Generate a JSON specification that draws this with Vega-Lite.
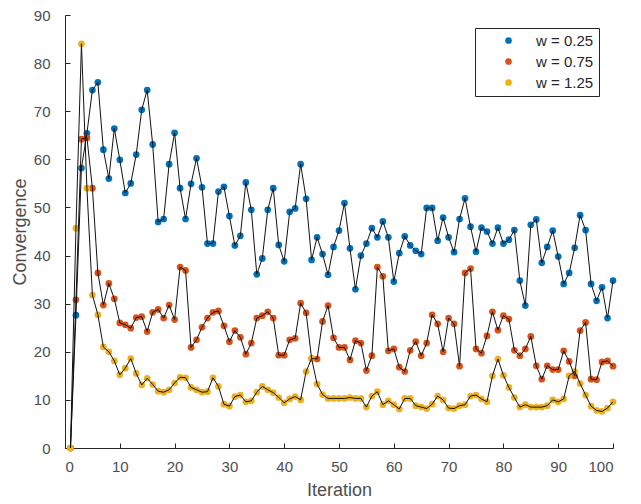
{
  "$schema": "https://vega.github.io/schema/vega-lite/v6.json",
  "width": 548,
  "height": 433,
  "autosize": {"type": "none"},
  "padding": {"left": 65, "top": 15, "right": 28, "bottom": 56},
  "background": "white",
  "config": {
    "view": {"stroke": null},
    "font": "Liberation Sans",
    "axis": {
      "grid": false,
      "domainColor": "#262626",
      "domainWidth": 1,
      "tickColor": "#262626",
      "tickSize": -5,
      "tickWidth": 1,
      "labelFont": "Liberation Sans",
      "labelFontSize": 15,
      "labelColor": "#4d4d4d",
      "titleFont": "Liberation Sans",
      "titleFontSize": 18,
      "titleFontWeight": "normal",
      "titleColor": "#4d4d4d"
    },
    "legend": {
      "orient": "none",
      "legendX": 410,
      "legendY": 13,
      "padding": 5,
      "rowPadding": 5,
      "strokeColor": "#262626",
      "fillColor": "white",
      "symbolType": "circle",
      "symbolSize": 45,
      "symbolStrokeWidth": 0,
      "symbolOffset": 21,
      "labelOffset": 20,
      "labelFont": "Liberation Sans",
      "labelFontSize": 15,
      "labelColor": "#262626",
      "title": null
    }
  },
  "data": {"values": [
    {"i":1,"s":"w = 0.25","v":0},{"i":2,"s":"w = 0.25","v":27.6},{"i":3,"s":"w = 0.25","v":58.2},{"i":4,"s":"w = 0.25","v":65.4},{"i":5,"s":"w = 0.25","v":74.4},{"i":6,"s":"w = 0.25","v":76.0},{"i":7,"s":"w = 0.25","v":62.0},{"i":8,"s":"w = 0.25","v":56.0},{"i":9,"s":"w = 0.25","v":66.4},{"i":10,"s":"w = 0.25","v":59.9},
    {"i":11,"s":"w = 0.25","v":53.0},{"i":12,"s":"w = 0.25","v":55.0},{"i":13,"s":"w = 0.25","v":61.0},{"i":14,"s":"w = 0.25","v":70.3},{"i":15,"s":"w = 0.25","v":74.4},{"i":16,"s":"w = 0.25","v":63.1},{"i":17,"s":"w = 0.25","v":47.0},{"i":18,"s":"w = 0.25","v":47.6},{"i":19,"s":"w = 0.25","v":59.0},{"i":20,"s":"w = 0.25","v":65.5},
    {"i":21,"s":"w = 0.25","v":54.0},{"i":22,"s":"w = 0.25","v":47.6},{"i":23,"s":"w = 0.25","v":54.9},{"i":24,"s":"w = 0.25","v":60.2},{"i":25,"s":"w = 0.25","v":54.2},{"i":26,"s":"w = 0.25","v":42.5},{"i":27,"s":"w = 0.25","v":42.5},{"i":28,"s":"w = 0.25","v":53.3},{"i":29,"s":"w = 0.25","v":54.3},{"i":30,"s":"w = 0.25","v":48.2},
    {"i":31,"s":"w = 0.25","v":42.1},{"i":32,"s":"w = 0.25","v":44.1},{"i":33,"s":"w = 0.25","v":55.2},{"i":34,"s":"w = 0.25","v":49.5},{"i":35,"s":"w = 0.25","v":36.1},{"i":36,"s":"w = 0.25","v":39.4},{"i":37,"s":"w = 0.25","v":49.5},{"i":38,"s":"w = 0.25","v":54.0},{"i":39,"s":"w = 0.25","v":42.2},{"i":40,"s":"w = 0.25","v":38.8},
    {"i":41,"s":"w = 0.25","v":49.1},{"i":42,"s":"w = 0.25","v":49.8},{"i":43,"s":"w = 0.25","v":59.0},{"i":44,"s":"w = 0.25","v":51.8},{"i":45,"s":"w = 0.25","v":39.1},{"i":46,"s":"w = 0.25","v":43.8},{"i":47,"s":"w = 0.25","v":40.3},{"i":48,"s":"w = 0.25","v":36.0},{"i":49,"s":"w = 0.25","v":41.8},{"i":50,"s":"w = 0.25","v":45.2},
    {"i":51,"s":"w = 0.25","v":50.9},{"i":52,"s":"w = 0.25","v":41.5},{"i":53,"s":"w = 0.25","v":33.0},{"i":54,"s":"w = 0.25","v":40.0},{"i":55,"s":"w = 0.25","v":42.5},{"i":56,"s":"w = 0.25","v":45.7},{"i":57,"s":"w = 0.25","v":43.8},{"i":58,"s":"w = 0.25","v":47.1},{"i":59,"s":"w = 0.25","v":43.8},{"i":60,"s":"w = 0.25","v":34.6},
    {"i":61,"s":"w = 0.25","v":40.5},{"i":62,"s":"w = 0.25","v":44.0},{"i":63,"s":"w = 0.25","v":42.1},{"i":64,"s":"w = 0.25","v":41.0},{"i":65,"s":"w = 0.25","v":40.3},{"i":66,"s":"w = 0.25","v":49.9},{"i":67,"s":"w = 0.25","v":49.9},{"i":68,"s":"w = 0.25","v":43.1},{"i":69,"s":"w = 0.25","v":47.9},{"i":70,"s":"w = 0.25","v":43.8},
    {"i":71,"s":"w = 0.25","v":40.7},{"i":72,"s":"w = 0.25","v":47.6},{"i":73,"s":"w = 0.25","v":51.9},{"i":74,"s":"w = 0.25","v":46.0},{"i":75,"s":"w = 0.25","v":40.8},{"i":76,"s":"w = 0.25","v":45.8},{"i":77,"s":"w = 0.25","v":45.0},{"i":78,"s":"w = 0.25","v":42.5},{"i":79,"s":"w = 0.25","v":45.8},{"i":80,"s":"w = 0.25","v":42.5},
    {"i":81,"s":"w = 0.25","v":43.3},{"i":82,"s":"w = 0.25","v":45.3},{"i":83,"s":"w = 0.25","v":34.8},{"i":84,"s":"w = 0.25","v":29.6},{"i":85,"s":"w = 0.25","v":46.4},{"i":86,"s":"w = 0.25","v":47.5},{"i":87,"s":"w = 0.25","v":38.5},{"i":88,"s":"w = 0.25","v":41.8},{"i":89,"s":"w = 0.25","v":45.2},{"i":90,"s":"w = 0.25","v":39.8},
    {"i":91,"s":"w = 0.25","v":34.1},{"i":92,"s":"w = 0.25","v":36.4},{"i":93,"s":"w = 0.25","v":41.6},{"i":94,"s":"w = 0.25","v":48.4},{"i":95,"s":"w = 0.25","v":45.3},{"i":96,"s":"w = 0.25","v":34.1},{"i":97,"s":"w = 0.25","v":30.6},{"i":98,"s":"w = 0.25","v":33.4},{"i":99,"s":"w = 0.25","v":27.0},{"i":100,"s":"w = 0.25","v":34.8},
    {"i":1,"s":"w = 0.75","v":0},{"i":2,"s":"w = 0.75","v":30.8},{"i":3,"s":"w = 0.75","v":64.2},{"i":4,"s":"w = 0.75","v":64.5},{"i":5,"s":"w = 0.75","v":54.0},{"i":6,"s":"w = 0.75","v":36.4},{"i":7,"s":"w = 0.75","v":29.7},{"i":8,"s":"w = 0.75","v":34.2},{"i":9,"s":"w = 0.75","v":31.0},{"i":10,"s":"w = 0.75","v":26.0},
    {"i":11,"s":"w = 0.75","v":25.6},{"i":12,"s":"w = 0.75","v":24.9},{"i":13,"s":"w = 0.75","v":27.1},{"i":14,"s":"w = 0.75","v":27.3},{"i":15,"s":"w = 0.75","v":24.2},{"i":16,"s":"w = 0.75","v":28.2},{"i":17,"s":"w = 0.75","v":28.8},{"i":18,"s":"w = 0.75","v":27.0},{"i":19,"s":"w = 0.75","v":29.7},{"i":20,"s":"w = 0.75","v":26.7},
    {"i":21,"s":"w = 0.75","v":37.6},{"i":22,"s":"w = 0.75","v":36.9},{"i":23,"s":"w = 0.75","v":20.9},{"i":24,"s":"w = 0.75","v":22.5},{"i":25,"s":"w = 0.75","v":25.1},{"i":26,"s":"w = 0.75","v":27.0},{"i":27,"s":"w = 0.75","v":28.2},{"i":28,"s":"w = 0.75","v":28.5},{"i":29,"s":"w = 0.75","v":25.4},{"i":30,"s":"w = 0.75","v":22.1},
    {"i":31,"s":"w = 0.75","v":24.4},{"i":32,"s":"w = 0.75","v":23.0},{"i":33,"s":"w = 0.75","v":19.5},{"i":34,"s":"w = 0.75","v":21.8},{"i":35,"s":"w = 0.75","v":27.0},{"i":36,"s":"w = 0.75","v":27.5},{"i":37,"s":"w = 0.75","v":28.3},{"i":38,"s":"w = 0.75","v":27.0},{"i":39,"s":"w = 0.75","v":19.3},{"i":40,"s":"w = 0.75","v":19.3},
    {"i":41,"s":"w = 0.75","v":22.5},{"i":42,"s":"w = 0.75","v":22.8},{"i":43,"s":"w = 0.75","v":30.1},{"i":44,"s":"w = 0.75","v":28.1},{"i":45,"s":"w = 0.75","v":18.6},{"i":46,"s":"w = 0.75","v":18.5},{"i":47,"s":"w = 0.75","v":26.3},{"i":48,"s":"w = 0.75","v":29.6},{"i":49,"s":"w = 0.75","v":22.9},{"i":50,"s":"w = 0.75","v":20.9},
    {"i":51,"s":"w = 0.75","v":20.9},{"i":52,"s":"w = 0.75","v":18.3},{"i":53,"s":"w = 0.75","v":22.3},{"i":54,"s":"w = 0.75","v":21.8},{"i":55,"s":"w = 0.75","v":16.1},{"i":56,"s":"w = 0.75","v":19.2},{"i":57,"s":"w = 0.75","v":37.6},{"i":58,"s":"w = 0.75","v":35.7},{"i":59,"s":"w = 0.75","v":20.2},{"i":60,"s":"w = 0.75","v":20.6},
    {"i":61,"s":"w = 0.75","v":16.8},{"i":62,"s":"w = 0.75","v":15.9},{"i":63,"s":"w = 0.75","v":20.3},{"i":64,"s":"w = 0.75","v":22.1},{"i":65,"s":"w = 0.75","v":19.2},{"i":66,"s":"w = 0.75","v":21.8},{"i":67,"s":"w = 0.75","v":27.7},{"i":68,"s":"w = 0.75","v":25.8},{"i":69,"s":"w = 0.75","v":20.0},{"i":70,"s":"w = 0.75","v":27.0},
    {"i":71,"s":"w = 0.75","v":25.8},{"i":72,"s":"w = 0.75","v":17.0},{"i":73,"s":"w = 0.75","v":36.4},{"i":74,"s":"w = 0.75","v":37.3},{"i":75,"s":"w = 0.75","v":20.6},{"i":76,"s":"w = 0.75","v":19.7},{"i":77,"s":"w = 0.75","v":23.3},{"i":78,"s":"w = 0.75","v":28.3},{"i":79,"s":"w = 0.75","v":24.5},{"i":80,"s":"w = 0.75","v":27.5},
    {"i":81,"s":"w = 0.75","v":26.8},{"i":82,"s":"w = 0.75","v":20.3},{"i":83,"s":"w = 0.75","v":19.2},{"i":84,"s":"w = 0.75","v":20.6},{"i":85,"s":"w = 0.75","v":23.2},{"i":86,"s":"w = 0.75","v":17.1},{"i":87,"s":"w = 0.75","v":14.3},{"i":88,"s":"w = 0.75","v":17.1},{"i":89,"s":"w = 0.75","v":16.3},{"i":90,"s":"w = 0.75","v":16.3},
    {"i":91,"s":"w = 0.75","v":20.2},{"i":92,"s":"w = 0.75","v":18.0},{"i":93,"s":"w = 0.75","v":15.0},{"i":94,"s":"w = 0.75","v":24.4},{"i":95,"s":"w = 0.75","v":26.1},{"i":96,"s":"w = 0.75","v":14.3},{"i":97,"s":"w = 0.75","v":14.2},{"i":98,"s":"w = 0.75","v":17.9},{"i":99,"s":"w = 0.75","v":18.1},{"i":100,"s":"w = 0.75","v":17.0},
    {"i":1,"s":"w = 1.25","v":0},{"i":2,"s":"w = 1.25","v":45.7},{"i":3,"s":"w = 1.25","v":84.0},{"i":4,"s":"w = 1.25","v":54.0},{"i":5,"s":"w = 1.25","v":31.8},{"i":6,"s":"w = 1.25","v":27.7},{"i":7,"s":"w = 1.25","v":21.0},{"i":8,"s":"w = 1.25","v":20.0},{"i":9,"s":"w = 1.25","v":18.1},{"i":10,"s":"w = 1.25","v":15.2},
    {"i":11,"s":"w = 1.25","v":16.6},{"i":12,"s":"w = 1.25","v":18.6},{"i":13,"s":"w = 1.25","v":15.5},{"i":14,"s":"w = 1.25","v":13.1},{"i":15,"s":"w = 1.25","v":14.5},{"i":16,"s":"w = 1.25","v":13.2},{"i":17,"s":"w = 1.25","v":11.8},{"i":18,"s":"w = 1.25","v":11.6},{"i":19,"s":"w = 1.25","v":12.1},{"i":20,"s":"w = 1.25","v":13.5},
    {"i":21,"s":"w = 1.25","v":14.7},{"i":22,"s":"w = 1.25","v":14.6},{"i":23,"s":"w = 1.25","v":12.6},{"i":24,"s":"w = 1.25","v":12.1},{"i":25,"s":"w = 1.25","v":11.6},{"i":26,"s":"w = 1.25","v":11.7},{"i":27,"s":"w = 1.25","v":14.6},{"i":28,"s":"w = 1.25","v":12.8},{"i":29,"s":"w = 1.25","v":9.1},{"i":30,"s":"w = 1.25","v":8.7},
    {"i":31,"s":"w = 1.25","v":10.7},{"i":32,"s":"w = 1.25","v":11.0},{"i":33,"s":"w = 1.25","v":9.6},{"i":34,"s":"w = 1.25","v":9.8},{"i":35,"s":"w = 1.25","v":11.6},{"i":36,"s":"w = 1.25","v":12.8},{"i":37,"s":"w = 1.25","v":12.1},{"i":38,"s":"w = 1.25","v":11.5},{"i":39,"s":"w = 1.25","v":10.5},{"i":40,"s":"w = 1.25","v":9.4},
    {"i":41,"s":"w = 1.25","v":10.2},{"i":42,"s":"w = 1.25","v":10.7},{"i":43,"s":"w = 1.25","v":10.0},{"i":44,"s":"w = 1.25","v":15.9},{"i":45,"s":"w = 1.25","v":18.6},{"i":46,"s":"w = 1.25","v":13.3},{"i":47,"s":"w = 1.25","v":11.1},{"i":48,"s":"w = 1.25","v":10.3},{"i":49,"s":"w = 1.25","v":10.3},{"i":50,"s":"w = 1.25","v":10.3},
    {"i":51,"s":"w = 1.25","v":10.3},{"i":52,"s":"w = 1.25","v":10.5},{"i":53,"s":"w = 1.25","v":10.3},{"i":54,"s":"w = 1.25","v":10.3},{"i":55,"s":"w = 1.25","v":8.5},{"i":56,"s":"w = 1.25","v":10.8},{"i":57,"s":"w = 1.25","v":11.7},{"i":58,"s":"w = 1.25","v":9.0},{"i":59,"s":"w = 1.25","v":9.8},{"i":60,"s":"w = 1.25","v":9.0},
    {"i":61,"s":"w = 1.25","v":8.1},{"i":62,"s":"w = 1.25","v":10.3},{"i":63,"s":"w = 1.25","v":10.3},{"i":64,"s":"w = 1.25","v":8.8},{"i":65,"s":"w = 1.25","v":8.5},{"i":66,"s":"w = 1.25","v":8.2},{"i":67,"s":"w = 1.25","v":9.1},{"i":68,"s":"w = 1.25","v":10.8},{"i":69,"s":"w = 1.25","v":10.0},{"i":70,"s":"w = 1.25","v":8.3},
    {"i":71,"s":"w = 1.25","v":8.2},{"i":72,"s":"w = 1.25","v":8.8},{"i":73,"s":"w = 1.25","v":9.0},{"i":74,"s":"w = 1.25","v":10.8},{"i":75,"s":"w = 1.25","v":11.0},{"i":76,"s":"w = 1.25","v":10.2},{"i":77,"s":"w = 1.25","v":9.6},{"i":78,"s":"w = 1.25","v":15.0},{"i":79,"s":"w = 1.25","v":18.5},{"i":80,"s":"w = 1.25","v":15.1},
    {"i":81,"s":"w = 1.25","v":12.6},{"i":82,"s":"w = 1.25","v":10.5},{"i":83,"s":"w = 1.25","v":8.5},{"i":84,"s":"w = 1.25","v":9.0},{"i":85,"s":"w = 1.25","v":8.5},{"i":86,"s":"w = 1.25","v":8.5},{"i":87,"s":"w = 1.25","v":8.5},{"i":88,"s":"w = 1.25","v":8.8},{"i":89,"s":"w = 1.25","v":10.0},{"i":90,"s":"w = 1.25","v":9.6},
    {"i":91,"s":"w = 1.25","v":10.2},{"i":92,"s":"w = 1.25","v":15.0},{"i":93,"s":"w = 1.25","v":15.9},{"i":94,"s":"w = 1.25","v":13.4},{"i":95,"s":"w = 1.25","v":11.0},{"i":96,"s":"w = 1.25","v":8.7},{"i":97,"s":"w = 1.25","v":7.8},{"i":98,"s":"w = 1.25","v":7.6},{"i":99,"s":"w = 1.25","v":8.3},{"i":100,"s":"w = 1.25","v":9.6}
  ]},
  "encoding": {
    "x": {"field": "i", "type": "quantitative", "scale": {"domain": [0, 100], "nice": false},
          "axis": {"title": "Iteration", "values": [0,10,20,30,40,50,60,70,80,90,100], "labelPadding": 16, "titlePadding": 7}},
    "y": {"field": "v", "type": "quantitative", "scale": {"domain": [0, 90], "nice": false},
          "axis": {"title": "Convergence", "values": [0,10,20,30,40,50,60,70,80,90], "labelPadding": 20, "titlePadding": 4}}
  },
  "layer": [
    {
      "mark": {"type": "point", "filled": true, "size": 45, "opacity": 1, "strokeWidth": 0},
      "encoding": {
        "color": {"field": "s", "type": "nominal",
                  "scale": {"domain": ["w = 0.25", "w = 0.75", "w = 1.25"], "range": ["#0072BD", "#D95319", "#EDB120"]},
                  "legend": {"title": null}}
      }
    },
    {
      "mark": {"type": "line", "color": "#111111", "strokeWidth": 1},
      "encoding": {"detail": {"field": "s"}, "order": {"field": "i"}}
    }
  ]
}
